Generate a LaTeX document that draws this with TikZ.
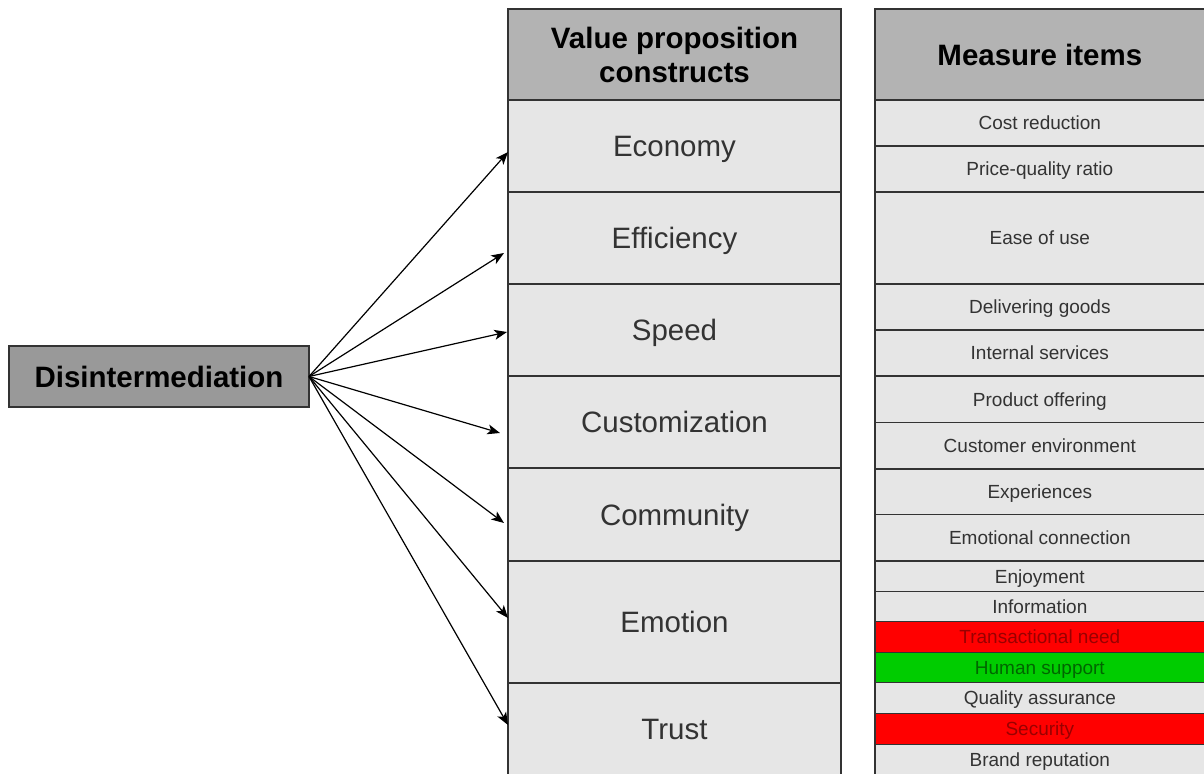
\documentclass[tikz,border=0pt]{standalone}
\usepackage{fontspec}
\setmainfont{Liberation Sans}
\usetikzlibrary{arrows.meta}
\definecolor{bord}{HTML}{333333}
\definecolor{hdr}{HTML}{B3B3B3}
\definecolor{disc}{HTML}{999999}
\definecolor{cellc}{HTML}{E6E6E6}
\definecolor{txt}{HTML}{333333}
\definecolor{redf}{HTML}{FF0000}
\definecolor{redt}{HTML}{990000}
\definecolor{grnf}{HTML}{00CC00}
\definecolor{grnt}{HTML}{006600}
\newcommand{\mkcell}[7]{%
  \pgfmathsetmacro{\cw}{(#4-#2)*0.75}%
  \pgfmathsetmacro{\ch}{(#5-#3)*0.75}%
  \node[#6, minimum width=\cw pt, minimum height=\ch pt, anchor=north west] (#1) at (#2,#3) {#7};}
\tikzset{
  box/.style={draw=bord, line width=1.1pt, inner sep=0pt, outer sep=0pt},
  hdrcell/.style={box, fill=hdr, text=black, align=center,
    font=\bfseries\fontsize{22.1}{25.5}\selectfont},
  bigcell/.style={box, fill=cellc, text=txt, text height=15.8pt, text depth=0pt,
    font=\fontsize{22.1}{25.5}\selectfont},
  smallcell/.style={box, fill=cellc, text=txt, text height=10.2pt, text depth=0pt,
    font=\fontsize{14.25}{16.4}\selectfont},
  redcell/.style={smallcell, fill=redf, text=redt},
  grncell/.style={smallcell, fill=grnf, text=grnt},
  discell/.style={box, fill=disc, text=black, text height=15.8pt, text depth=0pt,
    font=\bfseries\fontsize{22.1}{25.5}\selectfont},
  arr/.style={-{Stealth[length=9.5pt,width=7.5pt,inset=2.5pt]}, line width=0.9pt, black}
}
\begin{document}
\begin{tikzpicture}[x=0.75pt,y=-0.75pt]
\useasboundingbox (0,0) rectangle (1204,774);
\clip (0,0) rectangle (1204,774);
% left node
\mkcell{dis}{9}{346}{309}{407}{discell}{Disintermediation}
% middle column
\mkcell{vhdr}{508}{9}{841}{100}{hdrcell}{Value proposition\\constructs}
\mkcell{eco}{508}{100}{841}{192}{bigcell}{Economy}
\mkcell{eff}{508}{192}{841}{284}{bigcell}{Efficiency}
\mkcell{spd}{508}{284}{841}{376}{bigcell}{Speed}
\mkcell{cus}{508}{376}{841}{468}{bigcell}{Customization}
\mkcell{com}{508}{468}{841}{561}{bigcell}{Community}
\mkcell{emo}{508}{561}{841}{683}{bigcell}{Emotion}
\mkcell{tru}{508}{683}{841}{779}{bigcell}{\raisebox{1.5pt}{Trust}}
% right column
\mkcell{mhdr}{875}{9}{1210}{100}{hdrcell}{\hspace*{-4pt}Measure items}
\mkcell{m1}{875}{100}{1210}{146}{smallcell}{\hspace*{-4pt}Cost reduction}
\mkcell{m2}{875}{146}{1210}{192}{smallcell}{\hspace*{-4pt}Price-quality ratio}
\mkcell{m3}{875}{192}{1210}{284}{smallcell}{\hspace*{-4pt}Ease of use}
\mkcell{m4}{875}{284}{1210}{330}{smallcell}{\hspace*{-4pt}Delivering goods}
\mkcell{m5}{875}{330}{1210}{376}{smallcell}{\hspace*{-4pt}Internal services}
\mkcell{m6}{875}{376}{1210}{422.5}{smallcell}{\hspace*{-4pt}Product offering}
\mkcell{m7}{875}{422.5}{1210}{469}{smallcell}{\hspace*{-4pt}Customer environment}
\mkcell{m8}{875}{469}{1210}{514.5}{smallcell}{\hspace*{-4pt}Experiences}
\mkcell{m9}{875}{514.5}{1210}{561}{smallcell}{\hspace*{-4pt}Emotional connection}
\mkcell{m10}{875}{561}{1210}{591.7}{smallcell}{\hspace*{-4pt}Enjoyment}
\mkcell{m11}{875}{591.7}{1210}{621.7}{smallcell}{\hspace*{-4pt}Information}
\mkcell{m12}{875}{621.7}{1210}{652.3}{redcell}{\hspace*{-4pt}Transactional need}
\mkcell{m13}{875}{652.3}{1210}{682.7}{grncell}{\hspace*{-4pt}Human support}
\mkcell{m14}{875}{682.7}{1210}{713.3}{smallcell}{\hspace*{-4pt}Quality assurance}
\mkcell{m15}{875}{713.3}{1210}{744.3}{redcell}{\hspace*{-4pt}Security}
\mkcell{m16}{875}{744.3}{1210}{779}{smallcell}{\hspace*{-4pt}\raisebox{1.5pt}{Brand reputation}}
% arrow targets
\coordinate (tEco) at (508,152);
\coordinate (tEff) at (504,253);
\coordinate (tSpd) at (507,332);
\coordinate (tCus) at (500,433);
\coordinate (tCom) at (504,523);
\coordinate (tEmo) at (508,618);
\coordinate (tTru) at (508,725);
\foreach \t in {tEco,tEff,tSpd,tCus,tCom,tEmo,tTru}
  \draw[arr] (dis.east) -- (\t);
\end{tikzpicture}
\end{document}
